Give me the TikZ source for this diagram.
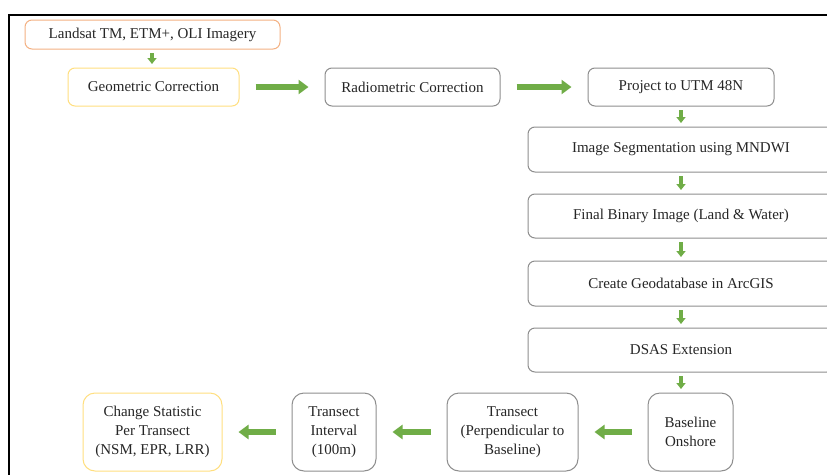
\documentclass[tikz,border=0pt]{standalone}
\usepackage{fontspec}
\setmainfont{Liberation Serif}
\usetikzlibrary{arrows.meta}
\definecolor{boxgray}{HTML}{8E8E8E}
\definecolor{boxorange}{HTML}{F4B183}
\definecolor{boxyellow}{HTML}{FFDF80}
\definecolor{arrgreen}{HTML}{70AD47}

\begin{document}
\begin{tikzpicture}[x=1pt,y=-1pt,font=\fontsize{15}{19}\selectfont,
box/.style={draw=boxgray,line width=1pt,rounded corners=7pt,text=black!85,align=center,inner sep=0pt},
hor/.style={draw=arrgreen,line width=6pt,-{Triangle[length=10pt,width=14pt]},shorten <=16pt,shorten >=16pt},
ver/.style={draw=arrgreen,line width=4pt,-{Triangle[length=6pt,width=9pt]},shorten <=3.5pt,shorten >=3.5pt}]
\clip(0,0)rectangle(827,474);\fill[white](0,0)rectangle(827,474);
\draw[line width=2pt](9,480)--(9,15)--(830,15);
\node[box,draw=boxorange,minimum width=255pt,minimum height=29pt](lan)at(152.5,34.5){Landsat TM, ETM+, OLI Imagery};
\node[box,draw=boxyellow,minimum width=171pt,minimum height=38pt](geo)at(153.5,87){Geometric Correction};
\node[box,minimum width=175pt,minimum height=38pt](rad)at(412.5,87){Radiometric Correction};
\node[box,minimum width=186pt,minimum height=38pt](prj)at(681,87){Project to UTM 48N};
\node[box,minimum width=306pt,minimum height=45pt](seg)at(681,149.5){Image Segmentation using MNDWI};
\node[box,minimum width=306pt,minimum height=44pt](bin)at(681,216){Final Binary Image (Land \& Water)};
\node[box,minimum width=306pt,minimum height=45pt](gdb)at(681,283.5){Create Geodatabase in ArcGIS};
\node[box,minimum width=306pt,minimum height=44pt](dsas)at(681,350){DSAS Extension};
\node[box,rounded corners=12pt,minimum width=85pt,minimum height=78pt](bas)at(690.5,432){Baseline\\Onshore};
\node[box,rounded corners=12pt,minimum width=131pt,minimum height=78pt](per)at(512.5,432){Transect\\(Perpendicular to\\Baseline)};
\node[box,rounded corners=12pt,minimum width=84pt,minimum height=78pt](int)at(334,432){Transect\\Interval\\(100m)};
\node[box,draw=boxyellow,rounded corners=12pt,minimum width=139pt,minimum height=78pt](chg)at(152.5,432){Change Statistic\\Per Transect\\(NSM, EPR, LRR)};
\draw[ver](lan.south-|152,0)--(geo.north-|152,0);\draw[hor](geo)--(rad);\draw[hor](rad)--(prj);
\draw[ver](prj)--(prj|-seg.north);\draw[ver](seg.south)--(bin.north);\draw[ver](bin.south)--(gdb.north);\draw[ver](gdb.south)--(dsas.north);
\draw[ver](dsas.south)--(bas.north-|prj);
\draw[hor](bas)--(per);\draw[hor](per)--(int);\draw[hor](int)--(chg);
\end{tikzpicture}
\end{document}
